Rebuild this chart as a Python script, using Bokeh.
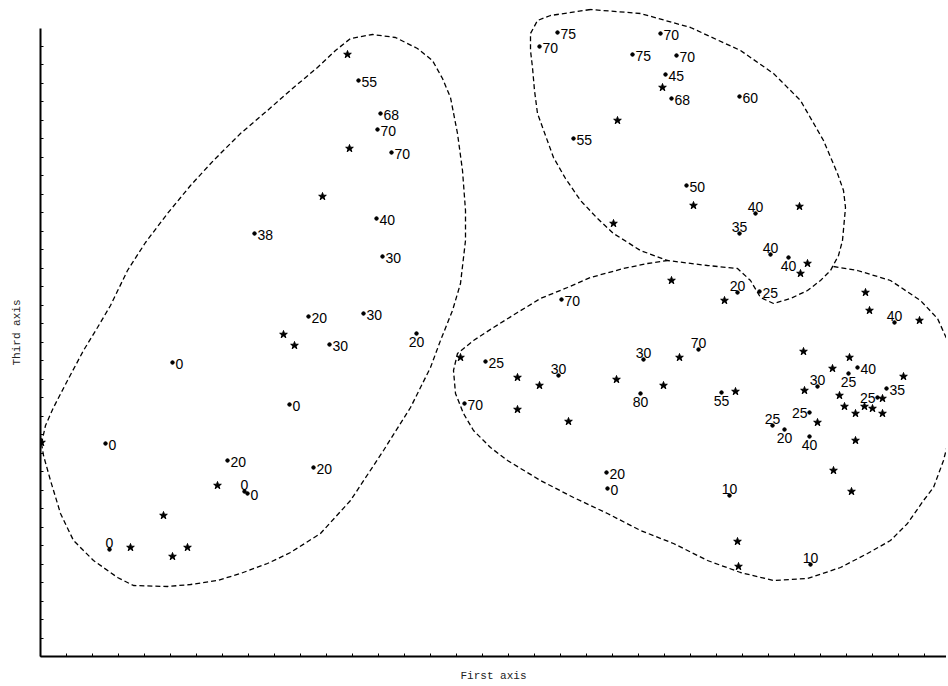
import numpy as np
from bokeh.plotting import figure
from bokeh.models import Range1d, FixedTicker, ColumnDataSource
from bokeh.core.properties import value
from bokeh.embed import file_html
from bokeh.resources import INLINE

# ---- Group A (left cluster) ----
a_dot_x = [318, 340, 337, 351, 336, 214, 342, 268, 323, 376, 289, 132, 249, 65, 187, 273, 204, 207, 69]
a_dot_y = [576, 543, 527, 504, 438, 423, 400, 340, 343, 323, 312, 294, 252, 213, 196, 189, 165, 163, 107]
a_dot_label = ["55", "68", "70", "70", "40", "38", "30", "20", "30", "20", "30", "0", "0", "0", "20", "20", "0", "0", "0"]
a_dot_pos = ["r", "r", "r", "r", "r", "r", "r", "r", "r", "b", "r", "r", "r", "r", "r", "r", "a", "r", "a"]
a_star_x = [307, 309, 282, 243, 254, 1, 177, 123, 90, 132, 147]
a_star_y = [602, 508, 460, 322, 311, 214, 171, 141, 109, 100, 109]
a_outline_x = [1, 5, 13, 27, 43, 57, 70, 87, 105, 127, 150, 173, 200, 227, 252, 277, 295, 310, 332, 355,
               377, 392, 402, 410, 417, 422, 425, 425, 420, 412, 400, 390, 370, 343, 310, 280, 250, 227,
               200, 177, 150, 127, 93, 77, 53, 33, 20, 10, 3]
a_outline_y = [213, 231, 249, 276, 306, 329, 351, 386, 414, 443, 471, 496, 523, 546, 568, 589, 606, 618, 622, 619,
               608, 596, 578, 559, 523, 486, 446, 416, 373, 346, 316, 289, 249, 206, 156, 123, 104, 93,
               83, 76, 72, 70, 71, 79, 96, 116, 143, 176, 201]

# ---- Group B (upper right cluster) ----
b_dot_x = [517, 499, 620, 592, 636, 625, 631, 699, 533, 646, 715, 699, 730, 748]
b_dot_y = [624, 610, 623, 602, 601, 582, 558, 560, 518, 471, 443, 423, 402, 399]
b_dot_label = ["75", "70", "70", "75", "70", "45", "68", "60", "55", "50", "40", "35", "40", "40"]
b_dot_pos = ["r", "r", "r", "r", "r", "r", "r", "r", "r", "r", "a", "a", "a", "b"]
b_star_x = [622, 577, 653, 759, 573, 767, 760]
b_star_y = [569, 536, 451, 450, 433, 393, 383]
b_outline_x = [550, 510, 497, 490, 490, 492, 494, 497, 505, 513, 525, 540, 557, 573, 600, 627, 667, 697,
               710, 720, 733, 750, 767, 780, 790, 798, 802, 805, 803, 797, 783, 760, 733, 700, 650, 600]
b_outline_y = [647, 641, 636, 623, 606, 589, 566, 543, 521, 499, 478, 456, 438, 423, 406, 396, 391, 388,
               376, 359, 353, 358, 366, 376, 386, 401, 416, 449, 466, 483, 516, 556, 583, 606, 629, 643]

# ---- Group C (lower right cluster) ----
c_dot_x = [697, 719, 521, 854, 658, 603, 445, 518, 600, 681, 424, 817, 777, 808, 846, 837, 769, 732, 744, 769,
           566, 567, 689, 770]
c_dot_y = [364, 365, 357, 334, 307, 297, 295, 281, 263, 264, 253, 289, 270, 283, 268, 259, 244, 231, 227, 220,
           184, 168, 161, 92]
c_dot_label = ["20", "25", "70", "40", "70", "30", "25", "30", "80", "55", "70", "40", "30", "25", "35", "25",
               "25", "25", "20", "40", "20", "0", "10", "10"]
c_dot_pos = ["a", "r", "r", "a", "a", "a", "r", "a", "b", "b", "r", "r", "a", "b", "r", "l",
             "l", "a", "b", "b", "r", "r", "a", "a"]
c_star_x = [631, 684, 825, 829, 879, 639, 420, 477, 499, 576, 623, 695, 477, 528, 763, 809, 792, 863, 764, 799,
            842, 804, 824, 832, 815, 842, 777, 815, 793, 811, 697, 698]
c_star_y = [376, 356, 364, 346, 336, 299, 299, 279, 271, 277, 271, 265, 247, 235, 305, 299, 288, 280, 266, 261,
            258, 250, 250, 248, 243, 243, 234, 216, 186, 165, 115, 90]
# open outline: its top edge between the two joins is shared with group B's outline
c_outline_x = [793, 817, 850, 880, 897, 907, 908, 908, 903, 893, 883, 867, 850, 827, 800, 767, 733, 700, 667, 633,
               600, 567, 533, 500, 467, 450, 433, 423, 415, 413, 417, 433, 453, 477, 500, 527, 550, 583, 607, 627]
c_outline_y = [390, 386, 376, 356, 338, 316, 280, 216, 196, 169, 156, 133, 116, 103, 89, 78, 76, 84, 96, 113,
               126, 143, 159, 176, 196, 209, 226, 243, 263, 286, 303, 316, 329, 344, 358, 369, 379, 388, 393, 396]

x_title = "First axis"
y_title = "Third axis"
x_tick_step = 26
y_tick_step = 18.5

p = figure(width=946, height=684, output_backend="svg", toolbar_location=None,
           x_range=Range1d(0, 906), y_range=Range1d(0, 648),
           min_border_left=40, min_border_right=0, min_border_top=8, min_border_bottom=28)
p.grid.visible = False
p.outline_line_color = None
p.background_fill_color = "white"
p.border_fill_color = "white"

for ax in (p.xaxis[0], p.yaxis[0]):
    ax.axis_line_width = 2
    ax.axis_line_color = "black"
    ax.major_tick_in = 0
    ax.major_tick_out = 0
    ax.minor_tick_in = 3
    ax.minor_tick_out = 0
    ax.minor_tick_line_color = "black"
    ax.major_label_standoff = 0
    ax.axis_label_text_font = "Liberation Mono"
    ax.axis_label_text_font_size = "11px"
    ax.axis_label_text_font_style = "normal"
    ax.axis_label_text_color = "#222222"

p.xaxis.ticker = FixedTicker(ticks=[], minor_ticks=list(np.arange(0, 906, x_tick_step)))
p.yaxis.ticker = FixedTicker(ticks=[], minor_ticks=list(np.arange(0, 628, y_tick_step)))
p.xaxis.axis_label = x_title
p.yaxis.axis_label = y_title
p.xaxis.axis_label_standoff = 13
p.yaxis.axis_label_standoff = 18
p.yaxis.bounds = (0, 628)

dash = dict(line_color="black", line_dash="5 3", line_width=1.3)
p.patch(a_outline_x, a_outline_y, fill_color=None, **dash)
p.patch(b_outline_x, b_outline_y, fill_color=None, **dash)
p.line(c_outline_x, c_outline_y, **dash)

styles = {
    "r": dict(text_align="left", text_baseline="middle", x_offset=3, y_offset=1),
    "l": dict(text_align="right", text_baseline="middle", x_offset=-2, y_offset=0),
    "a": dict(text_align="center", text_baseline="bottom", x_offset=0, y_offset=-2),
    "b": dict(text_align="center", text_baseline="top", x_offset=0, y_offset=3),
}

for dx, dy, dl, dp, sx, sy in [
    (a_dot_x, a_dot_y, a_dot_label, a_dot_pos, a_star_x, a_star_y),
    (b_dot_x, b_dot_y, b_dot_label, b_dot_pos, b_star_x, b_star_y),
    (c_dot_x, c_dot_y, c_dot_label, c_dot_pos, c_star_x, c_star_y),
]:
    p.scatter(dx, dy, marker="circle", size=3.5, color="black")
    p.scatter(sx, sy, marker="star", size=8, color="black")
    pos = np.array(dp)
    for key, st in styles.items():
        m = pos == key
        if not m.any():
            continue
        src = ColumnDataSource(dict(x=np.array(dx)[m], y=np.array(dy)[m], t=np.array(dl)[m]))
        p.text(x="x", y="y", text="t", source=src, text_font=value("Liberation Sans"),
               text_font_size="14px", text_color="black", **st)

open("out.html", "w").write(file_html(p, INLINE))
